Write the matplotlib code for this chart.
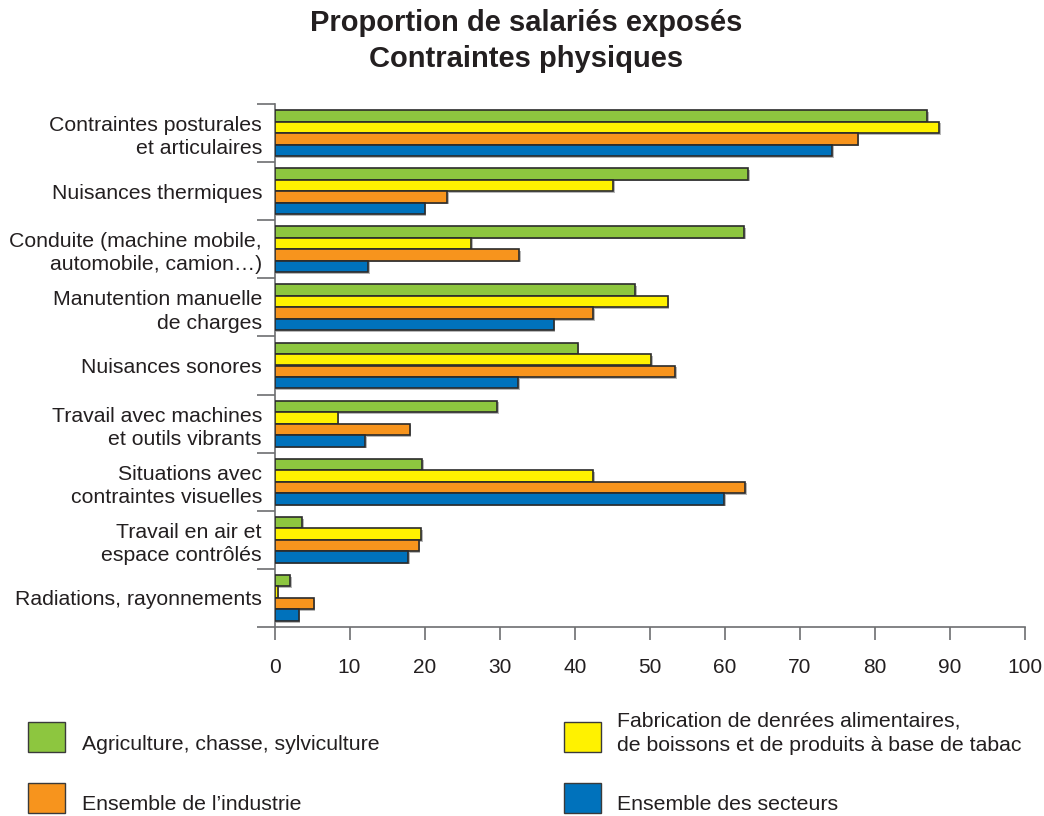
import matplotlib
matplotlib.use("Agg")
import matplotlib.pyplot as plt
import matplotlib.patheffects as pe
from matplotlib.patches import Rectangle
import numpy as np

plt.rcParams['font.family'] = ['Liberation Sans', 'DejaVu Sans']

categories = [
    "Contraintes posturales\net articulaires",
    "Nuisances thermiques",
    "Conduite (machine mobile,\nautomobile, camion\u2026)",
    "Manutention manuelle\nde charges",
    "Nuisances sonores",
    "Travail avec machines\net outils vibrants",
    "Situations avec\ncontraintes visuelles",
    "Travail en air et\nespace contr\u00f4l\u00e9s",
    "Radiations, rayonnements",
]
series_names = [
    "Agriculture, chasse, sylviculture",
    "Fabrication de denr\u00e9es alimentaires,\nde boissons et de produits \u00e0 base de tabac",
    "Ensemble de l\u2019industrie",
    "Ensemble des secteurs",
]
agriculture = [87.0, 63.1, 62.6, 48.1, 40.4, 29.7, 19.7, 3.7, 2.1]
alimentaire = [88.6, 45.1, 26.2, 52.4, 50.2, 8.4, 42.5, 19.5, 0.4]
industrie = [77.7, 23.0, 32.6, 42.5, 53.4, 18.0, 62.7, 19.2, 5.2]
ensemble = [74.3, 20.0, 12.5, 37.2, 32.5, 12.1, 59.9, 17.8, 3.2]
xticks = [0, 10, 20, 30, 40, 50, 60, 70, 80, 90, 100]

colors = ['#8DC63F', '#FFF200', '#F7941D', '#0072BC']
text_color = '#231F20'
axis_color = '#6D6E71'

W, H = 1044, 816
fig = plt.figure(figsize=(W / 100, H / 100), dpi=100)
ax = fig.add_axes([274.5 / W, 1 - 627 / H, (1025 - 274.5) / W, (627 - 104) / H])

n = len(categories)
y = np.arange(n)
h = 0.1975
shadow = [pe.SimplePatchShadow(offset=(1.2, -1.2), shadow_rgbFace='#9A9A9A', alpha=0.7), pe.Normal()]
for k, vals in enumerate([agriculture, alimentaire, industrie, ensemble]):
    bars = ax.barh(y + (k - 1.5) * h, vals, height=h, color=colors[k],
                   edgecolor='#2B2B2B', linewidth=1.2, zorder=3)
    for b in bars:
        b.set_path_effects(shadow)

ax.set_xlim(0, 100)
ax.set_ylim(n - 0.5, -0.5)
ax.set_xticks(xticks)
ax.set_xticklabels([str(t) for t in xticks])
ax.tick_params(axis='x', direction='out', length=9.5, width=1.2, color=axis_color,
               pad=13, labelsize=15, labelcolor=text_color)

ax.set_yticks(y)
ax.set_yticklabels(categories)
ax.tick_params(axis='y', which='major', length=0, pad=9, labelsize=15.3, labelcolor=text_color)
for lbl in ax.get_yticklabels():
    lbl.set_linespacing(1.28)
ax.set_yticks(np.arange(n + 1) - 0.5, minor=True)
ax.tick_params(axis='y', which='minor', direction='out', length=13, width=1.2, color=axis_color)

for s in ['top', 'right']:
    ax.spines[s].set_visible(False)
for s in ['left', 'bottom']:
    ax.spines[s].set_color(axis_color)
    ax.spines[s].set_linewidth(1.2)

fig.text(526 / W, 1 - 41 / H, "Proportion de salari\u00e9s expos\u00e9s\nContraintes physiques",
         ha='center', va='center', fontsize=21, fontweight='bold', color=text_color,
         linespacing=1.35, multialignment='center')

# legend
legend_items = [
    (28, 722, 82, 745, 0),
    (564, 722, 617, 733, 1),
    (28, 783, 82, 804, 2),
    (564, 783, 617, 804, 3),
]
for x0, y0, tx, ty, k in legend_items:
    r = Rectangle((x0 / W, 1 - (y0 + 30) / H), 37 / W, 30 / H, transform=fig.transFigure,
                  facecolor=colors[k], edgecolor='#3A3A3A', linewidth=1.0)
    fig.patches.append(r)
    fig.text(tx / W, 1 - ty / H, series_names[k], ha='left', va='center', fontsize=15.3,
             color=text_color, linespacing=1.35)

fig.savefig("out.png", dpi=100)
